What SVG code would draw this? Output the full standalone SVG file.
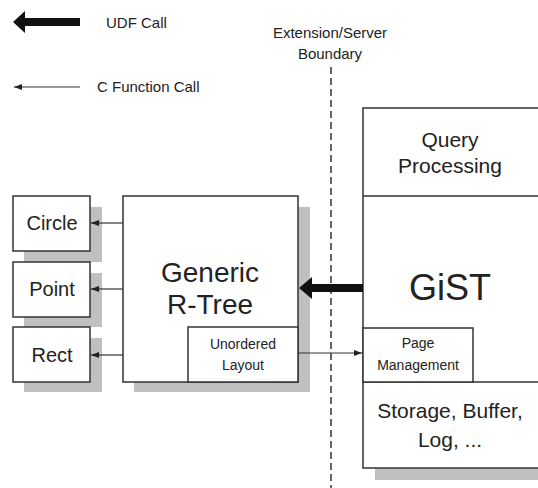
<svg xmlns="http://www.w3.org/2000/svg" width="538" height="488" viewBox="0 0 538 488">
<defs>
<style>
.box{fill:#fff;stroke:#333;stroke-width:1.5}
.sh{fill:#c0c0c0}
text{font-family:"Liberation Sans",Arial,sans-serif;fill:#222;text-anchor:middle}
.thin{stroke:#333;stroke-width:1.2;fill:none}
</style>
<marker id="ah" markerWidth="8" markerHeight="6" refX="8" refY="3" orient="auto" markerUnits="userSpaceOnUse">
<path d="M0,0 L8,3 L0,6 Z" fill="#222"/>
</marker>
</defs>
<rect width="538" height="488" fill="#fff"/>

<g id="legend">
<path d="M13,22 L25,11 L25,18 L80,18 L80,26 L25,26 L25,33 Z" fill="#111"/>
<text x="106" y="28" style="text-anchor:start;font-size:15px">UDF Call</text>
<line class="thin" x1="80" y1="87" x2="14" y2="87" marker-end="url(#ah)"/>
<text x="97" y="92" style="text-anchor:start;font-size:15px">C Function Call</text>
</g>

<g id="boundary">
<text x="330" y="38" style="font-size:15px">Extension/Server</text>
<text x="330" y="59" style="font-size:15px">Boundary</text>
<line x1="331" y1="67" x2="331" y2="488" stroke="#333" stroke-width="1.5" stroke-dasharray="7,4"/>
</g>

<g id="circle">
<rect class="sh" x="24" y="207" width="78" height="55"/>
<rect class="box" x="13" y="196" width="77" height="55"/>
<text x="52" y="230" style="font-size:20px">Circle</text>
</g>
<g id="point">
<rect class="sh" x="24" y="273" width="78" height="54"/>
<rect class="box" x="13" y="262" width="77" height="55"/>
<text x="52" y="296" style="font-size:20px">Point</text>
</g>
<g id="rect">
<rect class="sh" x="24" y="338" width="78" height="54"/>
<rect class="box" x="13" y="327" width="77" height="55"/>
<text x="52" y="362" style="font-size:20px">Rect</text>
</g>

<g id="rtree">
<rect class="sh" x="134" y="207" width="176" height="185"/>
<rect class="box" x="123" y="196" width="175" height="186"/>
<text x="210" y="282" style="font-size:28px">Generic</text>
<text x="210" y="314" style="font-size:28px">R-Tree</text>
</g>
<g id="unordered">
<rect class="box" x="188" y="327" width="110" height="55"/>
<text x="243" y="349" style="font-size:14px">Unordered</text>
<text x="243" y="370" style="font-size:14px">Layout</text>
</g>

<g id="server">
<rect class="sh" x="375" y="119" width="175" height="361"/>
<rect class="box" x="363" y="108" width="185" height="360"/>
<line x1="363" y1="196" x2="548" y2="196" stroke="#333" stroke-width="1.5"/>
<line x1="363" y1="382" x2="548" y2="382" stroke="#333" stroke-width="1.5"/>
</g>
<g id="query">
<text x="450" y="147" style="font-size:21px">Query</text>
<text x="450" y="173" style="font-size:21px">Processing</text>
</g>
<g id="gist">
<text x="450" y="300" style="font-size:36px">GiST</text>
</g>
<g id="page">
<rect class="box" x="363" y="328" width="110" height="54"/>
<text x="418" y="348" style="font-size:14px">Page</text>
<text x="418" y="370" style="font-size:14px">Management</text>
</g>
<g id="storage">
<text x="450" y="418" style="font-size:21px">Storage, Buffer,</text>
<text x="450" y="447" style="font-size:21px">Log, ...</text>
</g>

<g id="connectors">
<line class="thin" x1="123" y1="223" x2="91" y2="223" marker-end="url(#ah)"/>
<line class="thin" x1="123" y1="289" x2="91" y2="289" marker-end="url(#ah)"/>
<line class="thin" x1="123" y1="355" x2="91" y2="355" marker-end="url(#ah)"/>
<line class="thin" x1="298" y1="353" x2="362" y2="353" marker-end="url(#ah)"/>
<path d="M299,288 L312,277 L312,284 L363,284 L363,292 L312,292 L312,299 Z" fill="#111"/>
</g>
</svg>
